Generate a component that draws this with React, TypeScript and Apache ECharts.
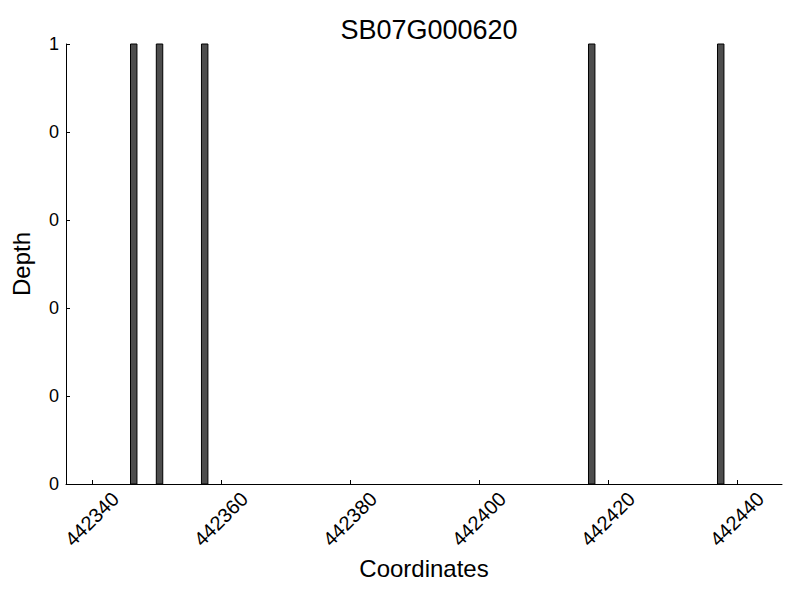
import React, { useEffect, useRef } from "react";
import * as echarts from "echarts";

const TITLE = "SB07G000620";
const positions = [442346, 442350, 442357, 442417, 442437];
const depths = [1, 1, 1, 1, 1];
const xTicks = [442340, 442360, 442380, 442400, 442420, 442440];
const X_MIN = 442336;
const X_MAX = 442447;

const FONT = "Liberation Sans";

export default function App() {
  const ref = useRef<HTMLDivElement>(null);
  useEffect(() => {
    if (!ref.current) return;
    const chart = echarts.init(ref.current, undefined, { renderer: "svg" });
    const data = positions.map((p, i) => [p, depths[i]]);
    chart.setOption({
      animation: false,
      backgroundColor: "#ffffff",
      title: {
        text: TITLE,
        left: 424,
        textAlign: "center",
        top: 11,
        textStyle: { fontFamily: FONT, fontSize: 27, fontWeight: "normal", color: "#000" },
      },
      grid: { left: 66, right: 18, top: 44, bottom: 116 },
      xAxis: {
        type: "value",
        min: X_MIN,
        max: X_MAX,
        name: "Coordinates",
        nameLocation: "middle",
        nameGap: 70,
        nameTextStyle: { fontFamily: FONT, fontSize: 24, color: "#000" },
        axisLine: { show: true, lineStyle: { color: "#000", width: 1 } },
        axisTick: { show: true, inside: true, length: 4, customValues: xTicks, lineStyle: { color: "#000" } },
        axisLabel: {
          customValues: xTicks,
          rotate: 45,
          align: "center",
          verticalAlign: "middle",
          margin: 35,
          fontFamily: FONT,
          fontSize: 20,
          color: "#000",
          formatter: (v: number) => String(v),
        },
        splitLine: { show: false },
      },
      yAxis: {
        type: "value",
        min: 0,
        max: 1,
        interval: 0.2,
        name: "Depth",
        nameLocation: "middle",
        nameGap: 33,
        nameTextStyle: { fontFamily: FONT, fontSize: 24, color: "#000" },
        axisLine: { show: true, lineStyle: { color: "#000", width: 1 } },
        axisTick: { show: true, inside: true, length: 4, lineStyle: { color: "#000" } },
        axisLabel: {
          margin: 7,
          fontFamily: FONT,
          fontSize: 18,
          color: "#000",
          formatter: (v: number) => String(Math.floor(v + 1e-9)),
        },
        splitLine: { show: false },
      },
      series: [
        {
          type: "custom",
          data,
          renderItem: (params: any, api: any) => {
            const x = api.value(0);
            const y = api.value(1);
            const p0 = api.coord([x, y]);
            const p1 = api.coord([x + 1, 0]);
            return {
              type: "rect",
              shape: { x: p0[0], y: p0[1], width: p1[0] - p0[0], height: p1[1] - p0[1] },
              style: { fill: "#4d4d4d", stroke: "#000", lineWidth: 1 },
            };
          },
        },
      ],
    });
    return () => chart.dispose();
  }, []);
  return <div ref={ref} style={{ width: 800, height: 600, marginLeft: -8, marginTop: -8 }} />;
}
